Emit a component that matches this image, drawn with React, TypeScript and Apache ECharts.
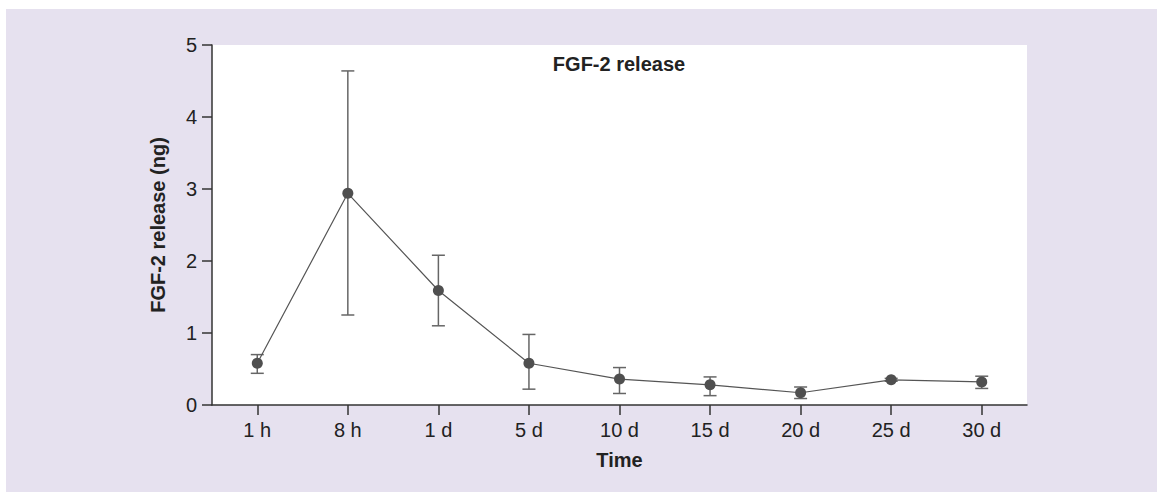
import React, { useEffect, useRef } from "react";
import * as echarts from "echarts";

const categories = ["1 h", "8 h", "1 d", "5 d", "10 d", "15 d", "20 d", "25 d", "30 d"];
const means = [0.58, 2.94, 1.59, 0.58, 0.36, 0.28, 0.17, 0.35, 0.32];
const upper = [0.7, 4.64, 2.08, 0.98, 0.52, 0.39, 0.25, 0.37, 0.4];
const lower = [0.44, 1.25, 1.1, 0.22, 0.16, 0.13, 0.09, 0.33, 0.23];

export default function App() {
  const ref = useRef<HTMLDivElement>(null);
  useEffect(() => {
    const chart = echarts.init(ref.current!, null, { renderer: "svg" });
    const font = "'Liberation Sans', Arial, sans-serif";
    chart.setOption({
      animation: false,
      backgroundColor: "#ffffff",
      graphic: [
        {
          type: "rect",
          shape: { x: 6, y: 9, width: 1151, height: 483 },
          style: { fill: "#e6e1ef" },
          z: -10,
          silent: true,
        },
        {
          type: "text",
          x: 619,
          y: 64,
          style: {
            text: "FGF-2 release",
            font: `bold 20px ${font}`,
            fill: "#222",
            align: "center",
            verticalAlign: "middle",
          },
          z: 10,
        },
      ],
      grid: { left: 212, top: 45, width: 815, height: 360, show: true, backgroundColor: "#ffffff", borderWidth: 0 },
      xAxis: {
        type: "category",
        data: categories,
        boundaryGap: true,
        name: "Time",
        nameLocation: "middle",
        nameGap: 45,
        nameTextStyle: { fontFamily: font, fontWeight: "bold", fontSize: 20, color: "#222" },
        axisLine: { onZero: false, lineStyle: { color: "#333", width: 1.5 } },
        axisTick: { show: true, alignWithLabel: true, length: 10, lineStyle: { color: "#333", width: 1.5 } },
        axisLabel: {
          fontFamily: font,
          fontSize: 20,
          color: "#222",
          margin: 15,
          interval: 0,
        },
        splitLine: { show: false },
      },
      yAxis: {
        type: "value",
        min: 0,
        max: 5,
        interval: 1,
        name: "FGF-2 release (ng)",
        nameLocation: "middle",
        nameGap: 44,
        nameTextStyle: { fontFamily: font, fontWeight: "bold", fontSize: 20, color: "#222" },
        axisLine: { show: true, onZero: false, lineStyle: { color: "#333", width: 1.5 } },
        axisTick: { show: true, length: 10, lineStyle: { color: "#333", width: 1.5 } },
        axisLabel: {
          fontFamily: font,
          fontSize: 20,
          color: "#222",
          margin: 15,
        },
        splitLine: { show: false },
      },
      series: [
        {
          type: "custom",
          data: categories.map((c, i) => [i, lower[i], upper[i]]),
          z: 2,
          renderItem: (params: any, api: any) => {
            const x = api.value(0);
            const lo = api.coord([x, api.value(1)]);
            const hi = api.coord([x, api.value(2)]);
            const w = 6.5;
            const style = { stroke: "#666", lineWidth: 1.5 };
            return {
              type: "group",
              children: [
                { type: "line", shape: { x1: hi[0], y1: hi[1], x2: lo[0], y2: lo[1] }, style },
                { type: "line", shape: { x1: hi[0] - w, y1: hi[1], x2: hi[0] + w, y2: hi[1] }, style },
                { type: "line", shape: { x1: lo[0] - w, y1: lo[1], x2: lo[0] + w, y2: lo[1] }, style },
              ],
            };
          },
        },
        {
          type: "line",
          data: means,
          symbol: "circle",
          symbolSize: 11,
          lineStyle: { color: "#555", width: 1.2 },
          itemStyle: { color: "#4f4f4f" },
          z: 3,
        },
      ],
    });
    return () => chart.dispose();
  }, []);
  return (
    <div
      ref={ref}
      style={{ position: "fixed", left: 0, top: 0, width: 1157, height: 492 }}
    />
  );
}
